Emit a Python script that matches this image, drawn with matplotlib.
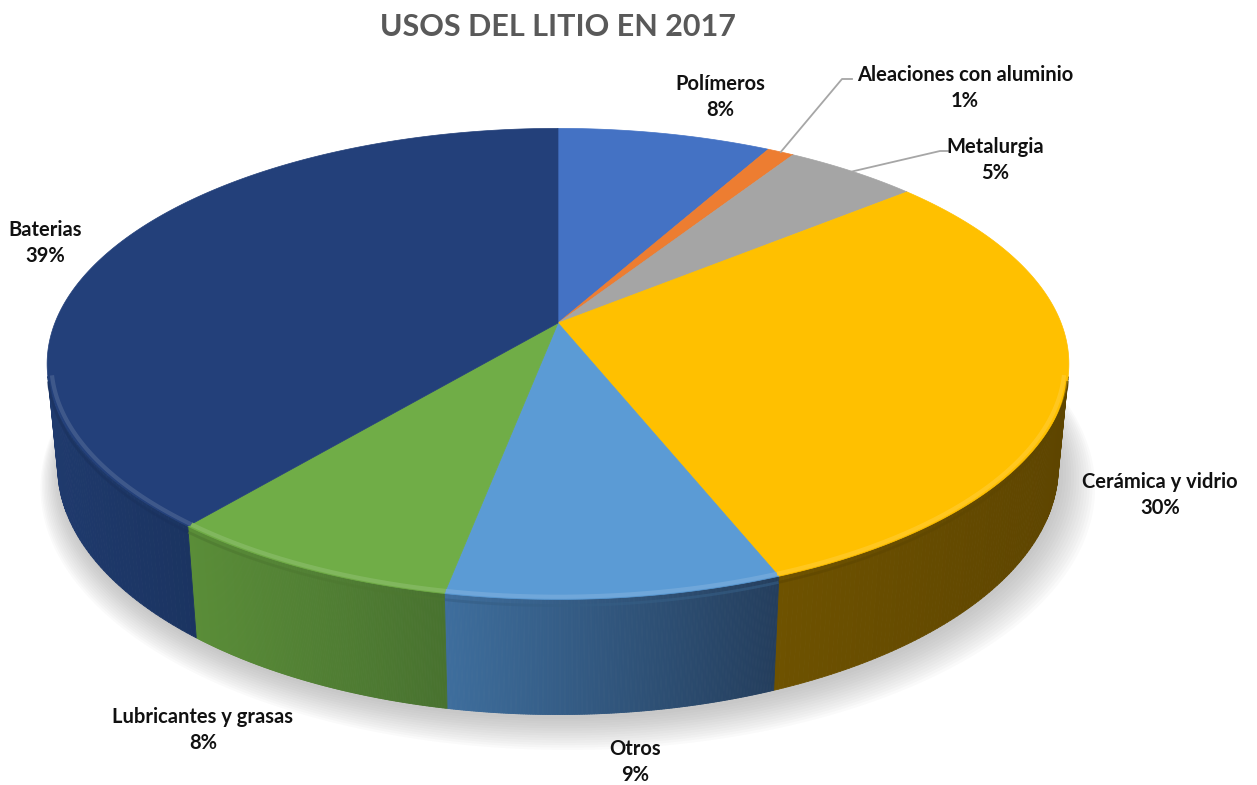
import numpy as np
import matplotlib
matplotlib.use("Agg")
import matplotlib.pyplot as plt
from matplotlib.collections import PolyCollection
from matplotlib.colors import to_rgb

plt.rcParams['font.family'] = ['Lato', 'DejaVu Sans']

# Usos del litio, 2017 (porcentaje)
categorias = ["Polímeros", "Aleaciones con aluminio", "Metalurgia",
              "Cerámica y vidrio", "Otros", "Lubricantes y grasas", "Baterias"]
valores = [8, 1, 5, 30, 9, 8, 39]

colores_top = ["#4472C4", "#ED7D31", "#A5A5A5", "#FFC000", "#5B9BD5", "#70AD47", "#23407A"]
# lateral: (izquierda, derecha)
colores_lado = [("#2F5597", "#243F6E"), ("#A05320", "#7A3F18"), ("#6E6E6E", "#555555"),
                ("#6E5200", "#5E4500"), ("#3E6E9D", "#243E5D"), ("#5A8D38", "#48722F"),
                ("#1F3A6D", "#1B3461")]

# camera for the tilted disc
ELEV = np.radians(27.0)
SE, CE = np.sin(ELEV), np.cos(ELEV)
DIST = 5.13
FOC = 2581.0
GROSOR = 0.23
CX, CY = 558.0, 323.0


def proyectar(theta, z, r=1.0):
    x = r * np.cos(theta)
    y = r * np.sin(theta)
    prof = DIST + y * CE - z * SE
    return CX + FOC * x / prof, CY - FOC * (y * SE + z * CE) / prof


def visible(theta):
    # outer wall faces the camera
    return np.sin(theta) < -1.0 / (DIST * CE)


def mezcla(c1, c2, t):
    a, b = np.array(to_rgb(c1)), np.array(to_rgb(c2))
    return tuple(a + (b - a) * t)


fig = plt.figure(figsize=(12.57, 7.85), dpi=100)
ax = fig.add_axes([0, 0, 1, 1])
ax.set_xlim(0, 1257)
ax.set_ylim(785, 0)
ax.axis("off")

frac = np.array(valores, dtype=float) / sum(valores)
acum = np.concatenate([[0], np.cumsum(frac)])
ang0 = np.pi / 2 - 2 * np.pi * acum[:-1]
ang1 = np.pi / 2 - 2 * np.pi * acum[1:]

# soft shadow under the disc
tt = np.linspace(0, 2 * np.pi, 400)
for k in range(14):
    sx, sy = proyectar(tt, -GROSOR, 1.0 + 0.004 * k)
    ax.fill(sx + 2 + 0.6 * k, sy + 4 + 1.0 * k, color="#7F7F7F", alpha=0.035,
            lw=0, zorder=0)

# outer walls
polys, cols = [], []
for i in range(len(valores)):
    th = np.linspace(ang0[i], ang1[i], 200)
    th = th[visible(th)]
    if len(th) < 2:
        continue
    xt, yt = proyectar(th, 0.0)
    xb, yb = proyectar(th, -GROSOR)
    xmin, xmax = xt.min(), xt.max()
    for k in range(len(th) - 1):
        polys.append([(xt[k], yt[k]), (xt[k + 1], yt[k + 1]),
                      (xb[k + 1], yb[k + 1]), (xb[k], yb[k])])
        t = (0.5 * (xt[k] + xt[k + 1]) - xmin) / max(xmax - xmin, 1e-6)
        cols.append(mezcla(colores_lado[i][0], colores_lado[i][1], t))
ax.add_collection(PolyCollection(polys, facecolors=cols, edgecolors=cols,
                                 linewidths=0.6, zorder=2))

# top faces
for i in range(len(valores)):
    th = np.linspace(ang0[i], ang1[i], 300)
    xs, ys = proyectar(th, 0.0)
    px = np.concatenate([[CX], xs])
    py = np.concatenate([[CY], ys])
    ax.fill(px, py, color=colores_top[i], ec=colores_top[i], lw=0.5, zorder=3)

# bevel highlight along the front rim
for i in range(len(valores)):
    th = np.linspace(ang0[i], ang1[i], 300)
    th = th[visible(th)]
    if len(th) < 2:
        continue
    xs, ys = proyectar(th, 0.0, 0.992)
    ax.plot(xs, ys, color=mezcla(colores_top[i], "#FFFFFF", 0.15), lw=3.0,
            alpha=0.85, solid_capstyle="butt", zorder=4)
    xs, ys = proyectar(th, -0.012)
    ax.plot(xs, ys, color=mezcla(colores_lado[i][0], "#000000", 0.15), lw=2.0,
            alpha=0.6, solid_capstyle="butt", zorder=4)

ax.text(558, 27, "USOS DEL LITIO EN 2017", ha="center", va="center",
        fontsize=22, fontweight="bold", color="#595959")

# label placement (px) and leader lines
pos_etq = [(720, 97), (965, 88), (995, 160), (1160, 495), (635, 762),
           (203, 730), (45, 243)]
fin_linea = {1: [(842, 79), (852, 79)], 2: [(940, 151), (948, 151)]}

for i, nombre in enumerate(categorias):
    x, y = pos_etq[i]
    ax.text(x, y, f"{nombre}\n{valores[i]}%", ha="center", va="center",
            fontsize=14.5, fontweight="bold", color="#111111", linespacing=1.35,
            zorder=6)
    if i in fin_linea:
        mid = 0.5 * (ang0[i] + ang1[i])
        x0, y0 = proyectar(mid, 0.0)
        pts = [(x0, y0)] + fin_linea[i]
        ax.plot([p[0] for p in pts], [p[1] for p in pts], color="#A6A6A6",
                lw=1.3, zorder=5)

fig.savefig("out.png", dpi=100)
